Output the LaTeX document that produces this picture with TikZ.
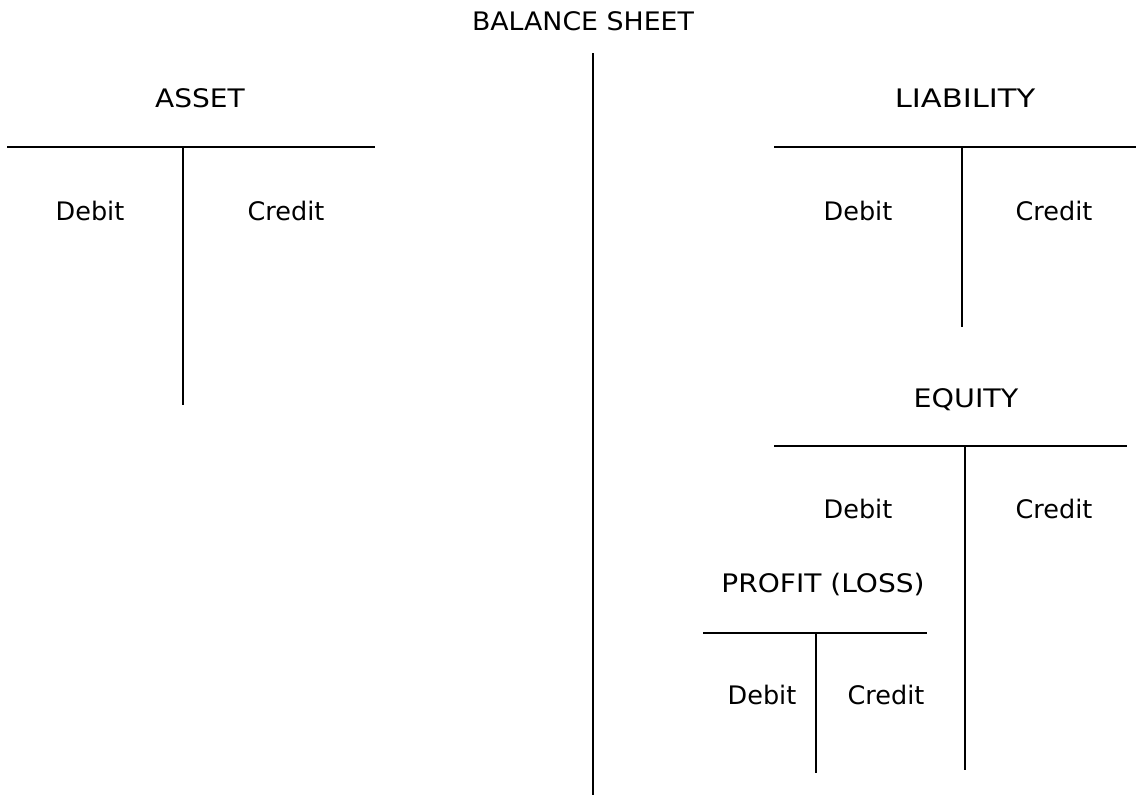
\documentclass[tikz,border=0pt]{standalone}
\usepackage{fontspec}
\setmainfont{DejaVu Sans}
\begin{document}
\begin{tikzpicture}[x=1pt,y=-1pt,
  lbl/.style={anchor=base,inner sep=0pt,font=\fontsize{25.5}{30}\selectfont},
  tline/.style={line width=1.7pt,black}]
\useasboundingbox[fill=white] (0,0) rectangle (1136,796);
% title and central divider
\node[lbl] (title) at (583,30) {\scalebox{1.05}[1]{BALANCE SHEET}};
\coordinate (ctop) at (593,53);
\coordinate (cbot) at (593,795);
\draw[tline] (ctop) -- (cbot);
% ASSET
\node[lbl] (asset) at (200,107) {\scalebox{1.1}[1]{ASSET}};
\draw[tline] (7,147) -- (375,147);
\draw[tline] (183,148) -- (183,405);
\node[lbl] (adeb) at (90,220) {Debit};
\node[lbl] (acred) at (286,220) {Credit};
% LIABILITY
\node[lbl] (liab) at (965,107) {\scalebox{1.2}[1]{LIABILITY}};
\draw[tline] (774,147) -- (1136,147);
\draw[tline] (962,148) -- (962,327);
\node[lbl] (ldeb) at (858,220) {Debit};
\node[lbl] (lcred) at (1054,220) {Credit};
% EQUITY
\node[lbl] (equity) at (966,407) {\scalebox{1.12}[1]{EQUITY}};
\draw[tline] (774,446) -- (1127,446);
\draw[tline] (965,447) -- (965,770);
\node[lbl] (edeb) at (858,518) {Debit};
\node[lbl] (ecred) at (1054,518) {Credit};
% PROFIT (LOSS)
\node[lbl] (profit) at (823,592) {\scalebox{1.1}[1]{PROFIT (LOSS)}};
\draw[tline] (703,633) -- (927,633);
\draw[tline] (816,634) -- (816,773);
\node[lbl] (pdeb) at (762,704) {Debit};
\node[lbl] (pcred) at (886,704) {Credit};
\end{tikzpicture}
\end{document}
